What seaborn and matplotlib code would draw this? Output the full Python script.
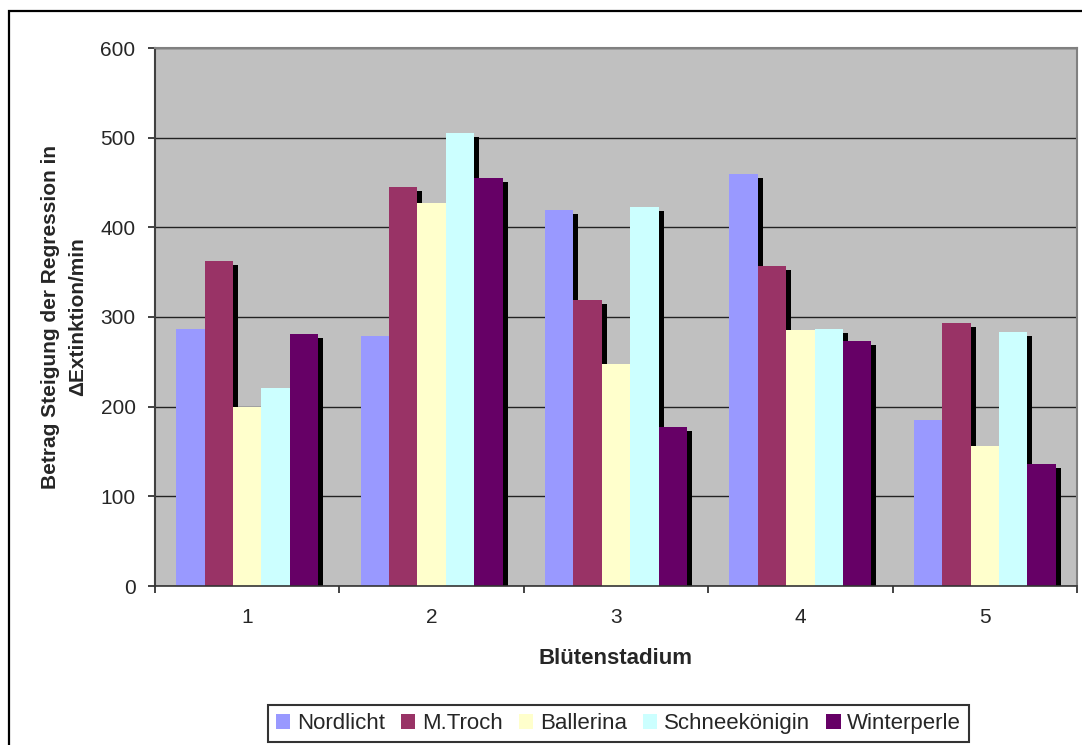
import matplotlib
matplotlib.use("Agg")
import matplotlib.pyplot as plt
from matplotlib.patches import Rectangle
import pandas as pd
import seaborn as sns

# Flowering stages and measured slopes per variety
stadien = ["1", "2", "3", "4", "5"]
sorten = ["Nordlicht", "M.Troch", "Ballerina", "Schneekönigin", "Winterperle"]
nordlicht = [287, 279, 419, 459, 185]
m_troch = [363, 445, 319, 357, 293]
ballerina = [200, 427, 248, 286, 156]
schneekoenigin = [221, 505, 423, 287, 283]
winterperle = [281, 455, 177, 273, 136]
farben = ["#9999FF", "#993366", "#FFFFCC", "#CCFFFF", "#660066"]
y_ticks = [0, 100, 200, 300, 400, 500, 600]

werte = [nordlicht, m_troch, ballerina, schneekoenigin, winterperle]
df = pd.DataFrame(
    [(st, so, v) for so, serie in zip(sorten, werte) for st, v in zip(stadien, serie)],
    columns=["Stadium", "Sorte", "Wert"],
)

sns.set_style("white")
plt.rcParams["font.family"] = ["Liberation Sans", "DejaVu Sans"]

W, H = 1082, 745
fig = plt.figure(figsize=(W / 100, H / 100), dpi=100)
ax = fig.add_axes([155 / W, 1 - 586 / H, 922 / W, 538 / H])
ax.set_facecolor("#C0C0C0")

sns.barplot(
    data=df, x="Stadium", y="Wert", hue="Sorte",
    order=stadien, hue_order=sorten, palette=farben,
    width=0.77, gap=0, saturation=1, errorbar=None,
    linewidth=0, ax=ax,
)

# Drop shadows: each series' shadow sits above the previous series' bars
px_x = 5 / 184.4          # 5 px in category units
px_y = 4 * 600 / 538      # ~4 px in value units
for i, cont in enumerate(ax.containers):
    for bar in cont:
        bar.set_zorder(3 + 2 * i)
        x, w, h = bar.get_x(), bar.get_width(), bar.get_height()
        ax.add_patch(Rectangle((x + px_x, 0), w, max(h - px_y, 0),
                               facecolor="black", edgecolor="none",
                               zorder=2 + 2 * i))

ax.set_xlim(-0.5, 4.5)
ax.set_ylim(0, 600)
ax.set_yticks(y_ticks)
ax.yaxis.grid(True, color="#222222", linewidth=1.0, zorder=0.5)
ax.set_axisbelow(True)

# Category labels centred, tick marks on the group boundaries
ax.set_xticks(range(len(stadien)))
ax.set_xticklabels(stadien)
ax.set_xticks([k - 0.5 for k in range(len(stadien) + 1)], minor=True)
ax.tick_params(axis="x", which="major", length=0, pad=16, labelsize=15)
ax.tick_params(axis="x", which="minor", length=5, width=1.2, direction="out",
               color="#222222", bottom=True)
ax.tick_params(axis="y", which="major", length=5, width=1.2, direction="out",
               color="#222222", pad=9, labelsize=15, left=True)

for side in ["top", "right"]:
    ax.spines[side].set_visible(True)
    ax.spines[side].set_color("#808080")
    ax.spines[side].set_linewidth(1.5)
ax.spines["left"].set_color("#404040")
ax.spines["left"].set_linewidth(1.5)
ax.spines["bottom"].set_color("#333333")
ax.spines["bottom"].set_linewidth(1.2)
for s in ax.spines.values():
    s.set_zorder(20)

ax.set_xlabel("Blütenstadium", fontsize=16, fontweight="bold")
ax.xaxis.set_label_coords(0.5, (586 - 659) / 538)
ax.xaxis.label.set_va("center")

ax.set_ylabel("Betrag Steigung der Regression in\nΔExtinktion/min",
              fontsize=15, fontweight="bold", linespacing=1.5)
ax.yaxis.set_label_coords((64 - 155) / 922, 0.5)
ax.yaxis.label.set_va("center")

handles, labels = ax.get_legend_handles_labels()
ax.legend_.remove()
leg = fig.legend(
    handles, labels, ncol=5, loc="center",
    bbox_to_anchor=(618.5 / W, 1 - 723.5 / H),
    fontsize=16, frameon=True, fancybox=False, shadow=False,
    handlelength=0.65, handleheight=0.65, handletextpad=0.3,
    columnspacing=0.72, borderpad=0.35, borderaxespad=0,
)
leg.get_frame().set_edgecolor("black")
leg.get_frame().set_linewidth(1.5)

# Chart area frame
fig.patches.append(Rectangle((9 / W, -0.05), 1.2, 1 - 11 / H + 0.05,
                             transform=fig.transFigure, fill=False,
                             edgecolor="black", linewidth=1.6))

fig.savefig("out.png", dpi=100, facecolor="white")
